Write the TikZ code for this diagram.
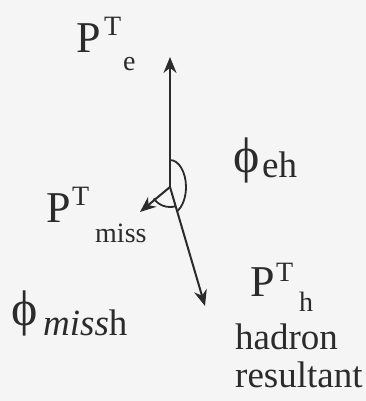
\documentclass[tikz,border=0pt]{standalone}
\usepackage{fontspec}
\setmainfont{LiberationSerif}[Extension=.ttf, UprightFont=*-Regular, ItalicFont=*-Italic, BoldFont=*-Bold]
\usetikzlibrary{arrows.meta}
\definecolor{bg}{HTML}{F5F5F5}
\definecolor{ink}{HTML}{2B2B2B}
\begin{document}
\begin{tikzpicture}[x=1pt,y=1pt,
  lbl/.style={inner sep=0pt, anchor=base west, text=ink},
  bigP/.style={lbl, font=\fontsize{44}{44}\selectfont},
  scriptT/.style={lbl, font=\fontsize{28}{28}\selectfont},
  wordtxt/.style={lbl, font=\fontsize{37}{37}\selectfont},
  phisym/.style={lbl, font=\fontsize{50}{50}\selectfont},
  vec/.style={draw=ink, line width=2pt, -{Stealth[length=16pt,width=13pt]}},
  anglearc/.style={draw=ink, line width=1.8pt}]
\fill[bg] (0,0) rectangle (366,-401);
\useasboundingbox (0,0) rectangle (366,-401);
% vectors
\coordinate (O) at (170,-187);
\coordinate (E) at (170,-57);
\coordinate (H) at (205,-306);
\coordinate (M) at (140,-212);
\draw[vec] (O) -- (E);
\draw[vec] (O) -- (H);
\draw[vec] (O) -- (M);
% angle arcs
\draw[anglearc] ([shift={(0,27)}]O) arc[start angle=90, end angle=-64, x radius=16, y radius=27];
\draw[anglearc] ([shift={(215:20)}]O) arc[start angle=215, end angle=286, radius=20];
% P^T_e
\node[bigP] (pe) at (76,-53) {P};
\node[scriptT] (pet) at (104,-36) {T};
\node[scriptT] (pee) at (123,-71) {e};
% phi_eh
\node[phisym] (phieh) at (233,-172) {ϕ};
\node[wordtxt] (eh) at (262,-177) {eh};
% P^T_miss
\node[bigP] (pm) at (46,-222) {P};
\node[scriptT] (pmt) at (72,-205) {T};
\node[scriptT] (pmm) at (95,-242) {miss};
% phi_missh
\node[phisym] (phim) at (11,-325) {ϕ};
\node[wordtxt] (missh) at (43,-335) {\textit{miss}h};
% P^T_h
\node[bigP] (ph) at (250,-296) {P};
\node[scriptT] (pht) at (276,-281) {T};
\node[scriptT] (phh) at (299,-311) {h};
\node[wordtxt] (had) at (235,-349) {hadron};
\node[wordtxt] (res) at (235,-387) {resultant};
\end{tikzpicture}
\end{document}
